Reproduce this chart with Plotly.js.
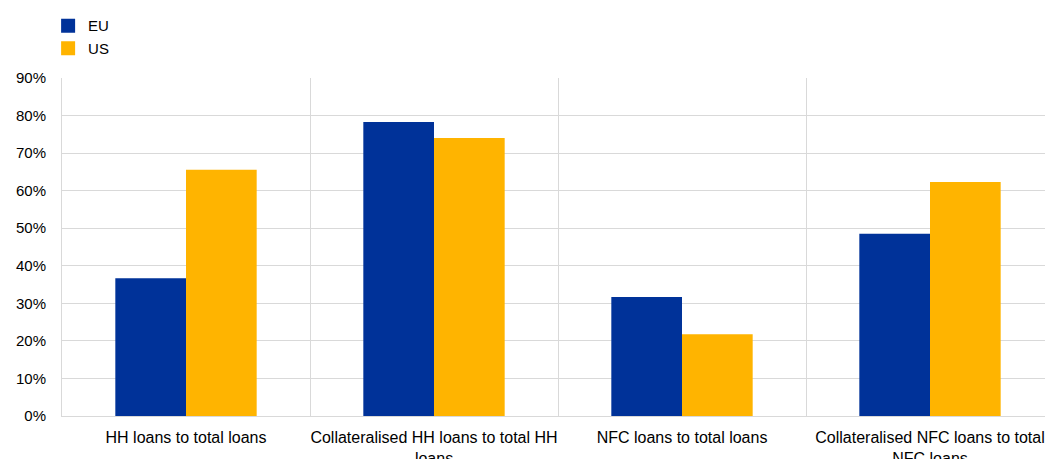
<!DOCTYPE html>
<html>
<head>
<meta charset="utf-8">
<script src="https://cdn.plot.ly/plotly-3.0.1.min.js"></script>
<style>
html,body{margin:0;padding:0;overflow:hidden;background:#fff;}
#chart{width:1060px;height:459px;}
</style>
</head>
<body>
<div id="chart"></div>
<script>
const categories = [
  "HH loans to total loans",
  "Collateralised HH loans to total HH<br>loans",
  "NFC loans to total loans",
  "Collateralised NFC loans to total<br>NFC loans"
];
const euValues = [0.367, 0.783, 0.317, 0.485];
const usValues = [0.656, 0.740, 0.218, 0.623];
const seriesNames = ["EU", "US"];
const seriesColors = ["#003299", "#FFB400"];

const traces = [
  {type: "bar", name: seriesNames[0], x: categories, y: euValues, marker: {color: seriesColors[0]}, showlegend: false},
  {type: "bar", name: seriesNames[1], x: categories, y: usValues, marker: {color: seriesColors[1]}, showlegend: false},
  {type: "scatter", mode: "markers", name: seriesNames[0], x: [null], y: [null],
   marker: {symbol: "square", size: 14, color: seriesColors[0]}, showlegend: true},
  {type: "scatter", mode: "markers", name: seriesNames[1], x: [null], y: [null],
   marker: {symbol: "square", size: 14, color: seriesColors[1]}, showlegend: true}
];

const layout = {
  width: 1060,
  height: 459,
  margin: {l: 62, r: 6, t: 78, b: 43},
  paper_bgcolor: "#ffffff",
  plot_bgcolor: "#ffffff",
  font: {family: "Liberation Sans, Arial, sans-serif", size: 15, color: "#000000"},
  barmode: "group",
  bargap: 0.43,
  bargroupgap: 0,
  showlegend: true,
  legend: {
    x: -0.014, xanchor: "left", y: 1.203, yanchor: "top",
    orientation: "v", font: {size: 15}, tracegroupgap: 0,
    itemsizing: "trace", itemwidth: 30, bgcolor: "rgba(0,0,0,0)"
  },
  xaxis: {
    type: "category",
    tickson: "boundaries",
    tickangle: 0,
    showgrid: true, gridcolor: "#d9d9d9", gridwidth: 1,
    showline: true, linecolor: "#d9d9d9", linewidth: 1,
    ticks: "", ticklabelstandoff: 7,
    tickfont: {size: 16},
    mirror: false, zeroline: false, fixedrange: true
  },
  yaxis: {
    range: [0, 0.9],
    dtick: 0.1,
    tickformat: ".0%",
    showgrid: true, gridcolor: "#d9d9d9", gridwidth: 1,
    showline: true, linecolor: "#d9d9d9", linewidth: 1,
    zeroline: false,
    ticks: "", ticklabelstandoff: 12,
    tickfont: {size: 15}, fixedrange: true
  }
};

Plotly.newPlot("chart", traces, layout, {displayModeBar: false, staticPlot: true});
</script>
</body>
</html>
